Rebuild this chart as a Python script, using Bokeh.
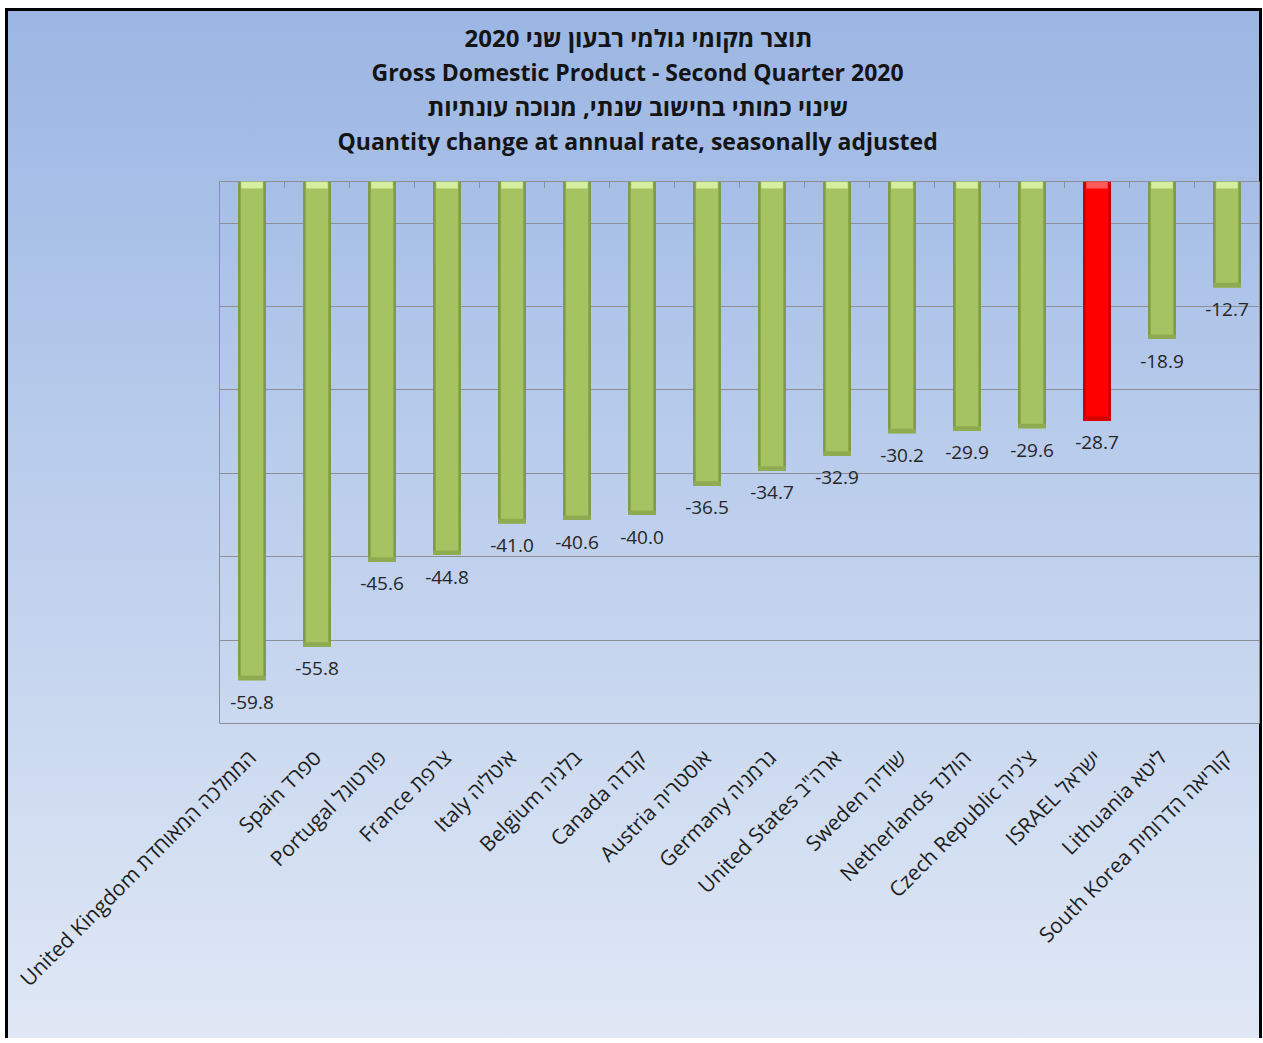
import math
from bokeh.plotting import figure
from bokeh.models import FactorRange, Range1d, ColumnDataSource, LabelSet, Title, FixedTicker
from bokeh.core.properties import value
from bokeh.embed import file_html
from bokeh.resources import INLINE

# ---------------- data ----------------
categories = [
    "United Kingdom הממלכה המאוחדת",
    "Spain ספרד",
    "Portugal פורטוגל",
    "France צרפת",
    "Italy איטליה",
    "Belgium בלגיה",
    "Canada קנדה",
    "Austria אוסטריה",
    "Germany גרמניה",
    "United States ארה\"ב",
    "Sweden שודיה",
    "Netherlands הולנד",
    "Czech Republic צ'כיה",
    "ISRAEL ישראל",
    "Lithuania ליטא",
    "South Korea קוריאה הדרומית",
]
gdp_change = [-59.8, -55.8, -45.6, -44.8, -41.0, -40.6, -40.0, -36.5,
              -34.7, -32.9, -30.2, -29.9, -29.6, -28.7, -18.9, -12.7]
highlight = "ISRAEL ישראל"
y_limits = [-65, 0]
grid_ticks = [-5, -15, -25, -35, -45, -55, -65]
title_lines = [
    "\u202bתוצר מקומי גולמי רבעון שני 2020\u202c",
    "Gross Domestic Product - Second Quarter 2020",
    "שינוי כמותי בחישוב שנתי, מנוכה עונתיות",
    "Quantity change at annual rate, seasonally adjusted",
]
# styling of title lines: (font size, left offset from frame so text is centred on the chart)
title_style = [("24px", 245), ("23px", 152), ("24px", 208), ("23px", 118)]

FONT = "Open Sans"
W, H = 1257, 1030
ML, MR, MT, MB = 214, 3, 173, 315

is_hl = [c == highlight for c in categories]
src = ColumnDataSource(dict(
    cat=categories,
    val=gdp_change,
    bevel=[v + 0.55 for v in gdp_change],
    lab=[f"{v:.1f}" for v in gdp_change],
    edge=["#c80000" if h else "#7f9b47" for h in is_hl],
    body=["#ff0000" if h else "#a5c461" for h in is_hl],
    top=["#ff5a5a" if h else "#d6ee9f" for h in is_hl],
    bot=["#d80000" if h else "#8eab52" for h in is_hl],
))

p = figure(
    x_range=FactorRange(factors=categories),
    y_range=Range1d(*y_limits),
    width=W, height=H, title=None,
    output_backend="svg", toolbar_location=None,
    min_border_left=ML, min_border_right=MR, min_border_top=MT, min_border_bottom=MB,
)
p.background_fill_color = None
p.border_fill_color = None
p.outline_line_color = "#8c9096"
p.outline_line_width = 1
p.styles = {
    "margin-top": "8px",
    "margin-left": "5px",
    "background": "linear-gradient(to bottom, #9bb6e3 0%, #bacdec 45%, #e0e8f5 100%)",
    "box-shadow": "inset 3px 0 0 0 #000, inset -3px 0 0 0 #000, inset 0 3px 0 0 #000",
}

# grid
p.xgrid.visible = False
p.ygrid.ticker = FixedTicker(ticks=grid_ticks)
p.ygrid.grid_line_color = "#8c9096"
p.ygrid.grid_line_width = 1
p.yaxis.visible = False

# x axis (category labels)
ax = p.xaxis[0]
ax.axis_line_color = None
ax.major_tick_line_color = None
ax.minor_tick_line_color = None
ax.major_tick_out = 0
ax.major_tick_in = 0
ax.major_label_orientation = math.pi / 4
ax.major_label_standoff = 30
ax.major_label_text_font = FONT
ax.major_label_text_font_size = "21px"
ax.major_label_text_color = "#1e1e1e"

# ticks between categories along the top (zero) line
bounds = list(range(1, len(categories)))
p.segment(x0=bounds, y0=[0] * len(bounds), x1=bounds, y1=[-0.75] * len(bounds),
          line_color="#8c9096", line_width=1)

# bars (layered for a bevelled look)
p.vbar(x="cat", top=0, bottom="val", width=0.43, source=src,
       fill_color="edge", line_color=None)
p.vbar(x="cat", top=0, bottom="val", width=0.35, source=src,
       fill_color="body", line_color=None)
p.vbar(x="cat", top="bevel", bottom="val", width=0.43, source=src,
       fill_color="bot", line_color=None)
p.vbar(x="cat", top=0, bottom=-0.85, width=0.33, source=src,
       fill_color="top", line_color=None)

# value labels
labels = LabelSet(x="cat", y="val", text="lab", source=src,
                  y_offset=-22, text_align="center", text_baseline="middle",
                  text_font=value(FONT), text_font_size="19px", text_color="#262626")
p.add_layout(labels)

# spacer between frame and title block
p.add_layout(Title(text=" ", text_font_size="21px", standoff=0), "above")
# title lines: added nearest-first
for t, (fs, off) in reversed(list(zip(title_lines, title_style))):
    p.add_layout(Title(text=t, align="left", offset=off, standoff=0,
                       text_font=FONT, text_font_size=fs,
                       text_font_style="bold", text_color="#141414"), "above")

open("out.html", "w").write(file_html(p, INLINE))
